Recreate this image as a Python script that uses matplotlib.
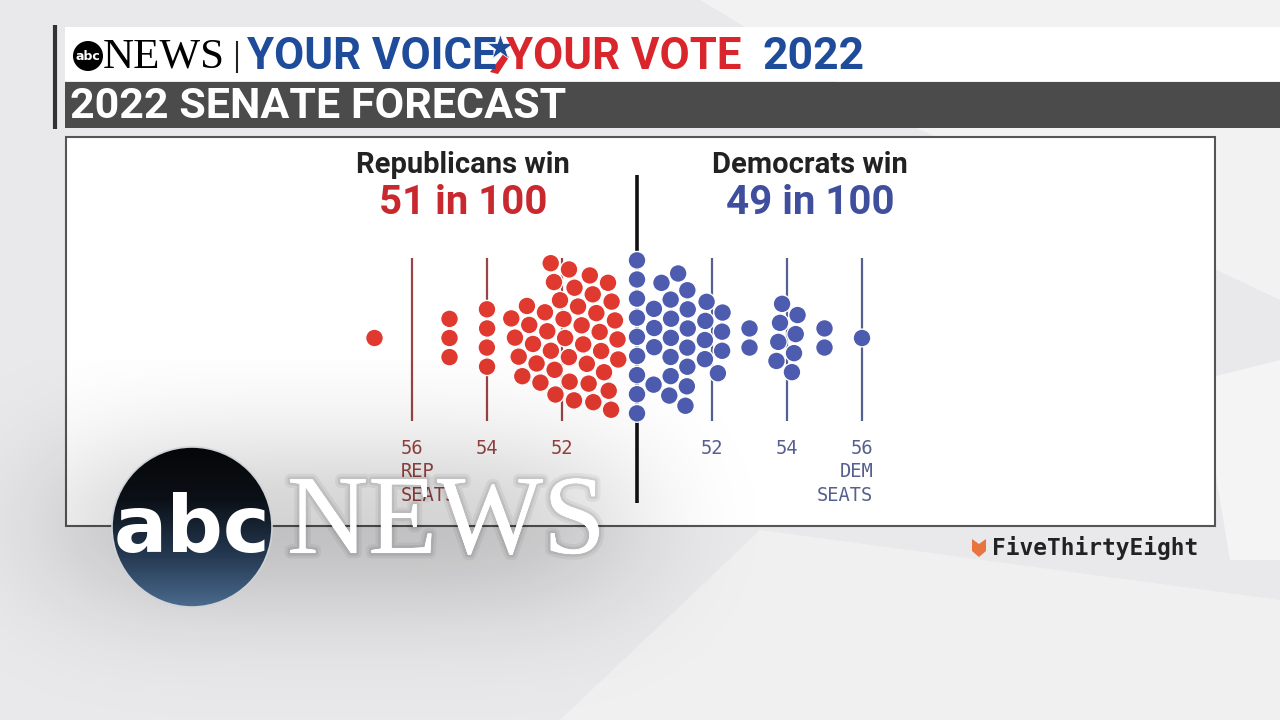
import numpy as np
import matplotlib
matplotlib.use("Agg")
import matplotlib.pyplot as plt
from matplotlib.patches import Circle, Rectangle, Polygon
import matplotlib.patheffects as pe

# outcomes out of 100 simulations, by seats won
rep_seats = [57, 55, 54, 53, 52, 51]
rep_counts = [1, 3, 4, 7, 18, 18]
dem_seats = [50, 51, 52, 53, 54, 55, 56]
dem_counts = [12, 16, 8, 2, 8, 2, 1]
rep_ticks = [56, 54, 52]
dem_ticks = [52, 54, 56]
rep_chance = 51
dem_chance = 49

RED = "#e0392f"
BLUE = "#4e5cb0"
RED_TXT = "#c8292f"
BLUE_TXT = "#3f4f9e"
RED_AX = "#9a4444"
BLUE_AX = "#56608f"

PX = 37.5          # pixels per seat
X0, Y0 = 637, 338  # pixel position of 50 seats / swarm centre


def swarm(targets, groups, r=0.255, steps=500):
    # simple deterministic force layout: pull to target seat, pull to y=0, no overlap
    tx = np.array(targets, float)
    n = len(tx)
    x = tx.copy()
    y = np.zeros(n)
    for v in np.unique(tx):
        idx = np.where(tx == v)[0]
        m = len(idx)
        y[idx] = (np.arange(m) - (m - 1) / 2) * 2 * r
        x[idx] += ((np.arange(m) % 3) - 1) * 0.03
    is_rep = np.array(groups) == "rep"
    for it in range(steps):
        if it < steps - 80:
            x += (tx - x) * 0.05
            y += -y * 0.008
        for _ in range(4):
            dx = x[:, None] - x[None, :]
            dy = y[:, None] - y[None, :]
            d = np.sqrt(dx ** 2 + dy ** 2) + 1e-9
            ov = np.clip(2 * r - d, 0, None)
            np.fill_diagonal(ov, 0)
            f = ov / d * 0.5
            x += (f * dx).sum(1) * 0.5
            y += (f * dy).sum(1) * 0.5
            x[is_rep] = np.minimum(x[is_rep], 49.5)
            x[~is_rep] = np.maximum(x[~is_rep], 50.0)
    return x, y


targets = []
groups = []
for s, c in zip(rep_seats, rep_counts):
    targets += [100 - s] * c
    groups += ["rep"] * c
for s, c in zip(dem_seats, dem_counts):
    targets += [s] * c
    groups += ["dem"] * c
xs, ys = swarm(targets, groups)

fig = plt.figure(figsize=(12.8, 7.2), dpi=100)

# ---------- background / broadcast graphics (pixel coords) ----------
bg = fig.add_axes([0, 0, 1, 1])
bg.set_xlim(0, 1280)
bg.set_ylim(720, 0)
bg.axis("off")
bg.add_patch(Rectangle((0, 0), 1280, 720, fc="#e9e9eb", ec="none"))
bg.add_patch(Polygon([[700, 0], [1280, 0], [1280, 300], [900, 120]], fc="#f2f2f3", ec="none"))
bg.add_patch(Polygon([[560, 720], [760, 530], [1280, 600], [1280, 720]], fc="#f0f0f1", ec="none"))
bg.add_patch(Polygon([[1200, 380], [1280, 360], [1280, 560], [1230, 560]], fc="#f4f4f5", ec="none"))

bg.add_patch(Rectangle((65, 27), 1215, 54, fc="white", ec="none"))
bg.add_patch(Rectangle((65, 82), 1215, 46, fc="#4b4b4b", ec="none"))
bg.plot([55, 55], [25, 129], color="#333333", lw=3, solid_capstyle="butt")
bg.text(70, 106, "2022 SENATE FORECAST", color="white", fontsize=31, fontweight="bold",
        family="Roboto", ha="left", va="center")

bg.add_patch(Circle((88, 56), 15, fc="black", ec="none"))
bg.text(88, 57, "abc", color="white", fontsize=9, fontweight="bold", ha="center", va="center")
bg.text(103, 57, "NEWS", color="black", fontsize=31, family="Liberation Serif", ha="left", va="center")
bg.plot([237, 237], [42, 72], color="#222222", lw=1.5)
bg.text(247, 57, "YOUR VOICE", color="#1f4c9a", fontsize=31.5, fontweight="bold", family="Roboto",
        ha="left", va="center")
bg.plot([500], [47], marker="*", ms=19, color="#1f4c9a", mec="white", mew=0.5)
bg.add_patch(Polygon([[490, 72], [504, 53], [509, 57], [498, 74]], fc="#d9262c", ec="none"))
bg.text(506, 57, "YOUR VOTE", color="#d9262c", fontsize=31.5, fontweight="bold", family="Roboto",
        ha="left", va="center")
bg.text(762, 57, "2022", color="#1f4c9a", fontsize=32, fontweight="bold", family="Roboto",
        ha="left", va="center")

bg.add_patch(Rectangle((66, 137), 1149, 389, fc="white", ec="#555555", lw=1.5))

bg.text(463, 165, "Republicans win", color="#222222", fontsize=21, fontweight="bold",
        family="Roboto", ha="center", va="center")
bg.text(463, 203, f"{rep_chance} in 100", color=RED_TXT, fontsize=29, fontweight="bold",
        family="Roboto", ha="center", va="center")
bg.text(810, 165, "Democrats win", color="#222222", fontsize=21, fontweight="bold",
        family="Roboto", ha="center", va="center")
bg.text(810, 203, f"{dem_chance} in 100", color=BLUE_TXT, fontsize=29, fontweight="bold",
        family="Roboto", ha="center", va="center")

# FiveThirtyEight credit
bg.add_patch(Polygon([[972, 539], [979, 544], [986, 539], [986, 551], [979, 557], [972, 551]],
                     fc="#e8743f", ec="none"))
bg.text(992, 548, "FiveThirtyEight", color="#222222", fontsize=16.5, fontweight="bold",
        family="DejaVu Sans Mono", ha="left", va="center")

# ---------- swarm chart (seat coords) ----------
ax = fig.add_axes([0, 0, 1, 1])
ax.set_xlim(50 - X0 / PX, 50 + (1280 - X0) / PX)
ax.set_ylim(-(720 - Y0) / PX, Y0 / PX)
ax.axis("off")
ax.patch.set_alpha(0)

ax.vlines([100 - t for t in rep_ticks], -2.2, 2.13, color=RED_AX, lw=1.6, zorder=1)
ax.vlines(dem_ticks, -2.2, 2.13, color=BLUE_AX, lw=1.6, zorder=1)
ax.vlines(50, -4.4, 4.35, color="#111111", lw=2.6, zorder=2)

for x, y, g in zip(xs, ys, groups):
    ax.add_patch(Circle((x, y), 0.237, fc=RED if g == "rep" else BLUE, ec="white", lw=1.0, zorder=3))

lab_y = -(449 - Y0) / PX
sub_top = -(462 - Y0) / PX
for t in rep_ticks:
    ax.text(100 - t, lab_y, str(t), color=RED_AX, fontsize=13.5, family="DejaVu Sans Mono",
            ha="center", va="center")
ax.text(100 - rep_ticks[0] - 0.29, sub_top, "REP\nSEATS", color=RED_AX, fontsize=13.5,
        family="DejaVu Sans Mono", ha="left", va="top", linespacing=1.35)
for t in dem_ticks:
    ax.text(t, lab_y, str(t), color=BLUE_AX, fontsize=13.5, family="DejaVu Sans Mono",
            ha="center", va="center")
ax.text(dem_ticks[-1] + 0.3, sub_top, "DEM\nSEATS", color=BLUE_AX, fontsize=13.5,
        family="DejaVu Sans Mono", ha="right", va="top", linespacing=1.35)

# ---------- ABC News bug on top ----------
lg = fig.add_axes([0, 0, 1, 1])
lg.set_xlim(0, 1280)
lg.set_ylim(720, 0)
lg.axis("off")
lg.patch.set_alpha(0)

# soft shadow behind the bug
gx, gy = np.meshgrid(np.linspace(0, 760, 380), np.linspace(360, 720, 180))
alpha = 0.17 * np.exp(-((gx - 340) / 300) ** 4 - ((gy - 525) / 100) ** 2)
haze = np.zeros(gx.shape + (4,))
haze[..., 3] = alpha
lg.imshow(haze, extent=(0, 760, 720, 360), origin="upper", aspect="auto", zorder=1,
          interpolation="bilinear")

lg.add_patch(Circle((192, 527), 80, fc="none", ec="#cfd3d8", lw=1.2, zorder=3))
grad = np.linspace(0, 1, 200)[:, None] * np.ones((1, 10))
img = lg.imshow(grad, cmap=matplotlib.colors.LinearSegmentedColormap.from_list(
    "abc", ["#050607", "#0c1118", "#24374f", "#4a6a8e"]),
    extent=(112, 272, 607, 447), origin="upper", aspect="auto", zorder=2)
img.set_clip_path(Circle((192, 527), 80, transform=lg.transData))
lg.text(192, 530, "abc", color="white", fontsize=57, fontweight="bold", family="DejaVu Sans",
        ha="center", va="center", zorder=4)
shadow = [pe.withStroke(linewidth=8, foreground="#000000", alpha=0.05),
          pe.withStroke(linewidth=4, foreground="#000000", alpha=0.07), pe.Normal()]
lg.text(287, 526, "NEWS", color="white", fontsize=81, family="Liberation Serif",
        ha="left", va="center", zorder=4, path_effects=shadow)
lg.set_xlim(0, 1280)
lg.set_ylim(720, 0)

fig.savefig("out.png", dpi=100)
